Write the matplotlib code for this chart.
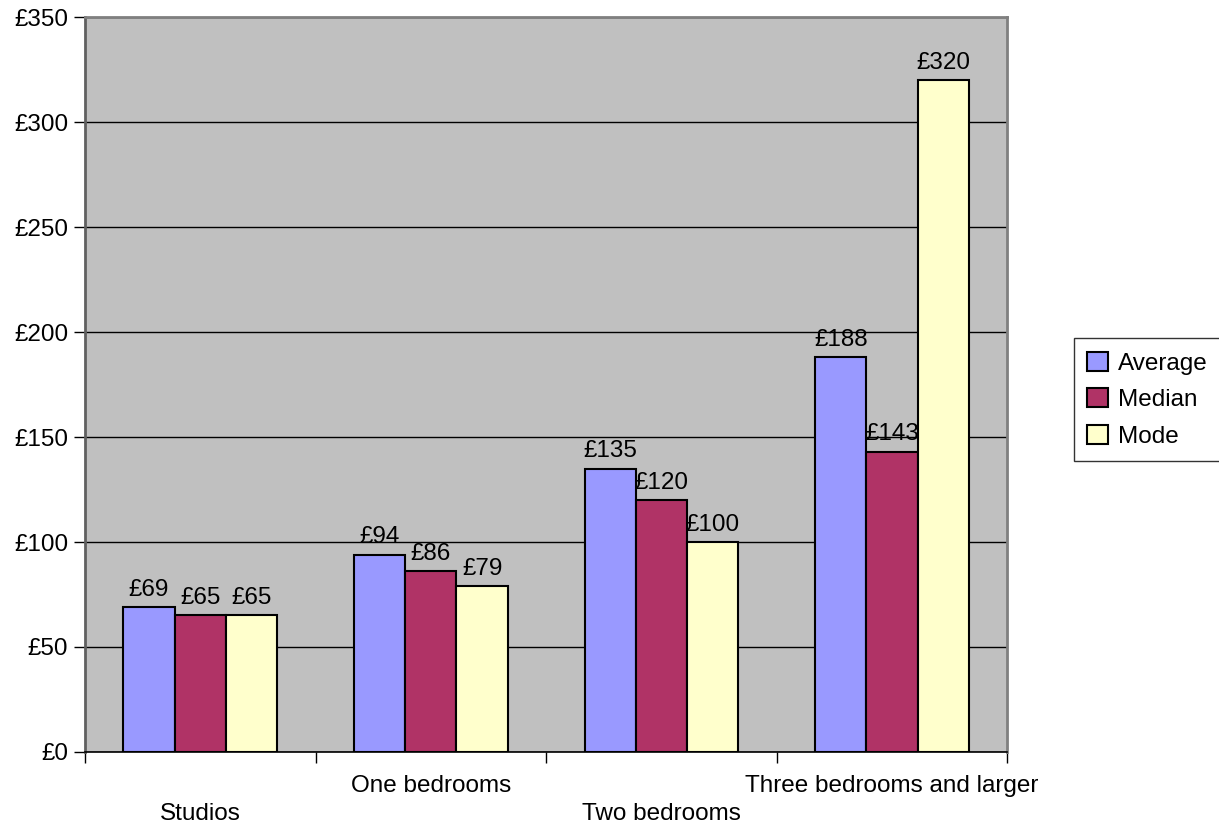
import matplotlib.pyplot as plt
import numpy as np

plt.rcParams['font.family'] = ['Liberation Sans', 'DejaVu Sans']

# Weekly rent by property size
categories = ['Studios', 'One bedrooms', 'Two bedrooms', 'Three bedrooms and larger']
average = [69, 94, 135, 188]
median = [65, 86, 120, 143]
mode = [65, 79, 100, 320]
series_names = ['Average', 'Median', 'Mode']
y_ticks = [0, 50, 100, 150, 200, 250, 300, 350]

colors = ['#9999FF', '#B03366', '#FFFFCC']
font_size = 17.5

fig = plt.figure(figsize=(12.19, 8.27), dpi=100)
ax = fig.add_axes([0.0697, 0.0907, 0.7567, 0.8887])
ax.set_facecolor('#C0C0C0')

x = np.arange(len(categories))
width = 1 / 4.5
offsets = [-width, 0, width]

for values, name, color, off in zip([average, median, mode], series_names, colors, offsets):
    bars = ax.bar(x + off, values, width, color=color, edgecolor='black',
                  linewidth=1.5, label=name, zorder=3)
    # Value labels above each bar
    for bar, v in zip(bars, values):
        ax.text(bar.get_x() + bar.get_width() / 2, v + 3, '£%d' % v,
                ha='center', va='bottom', fontsize=font_size, zorder=4)

ax.set_xlim(-0.5, len(categories) - 0.5)
ax.set_ylim(0, 350)

# Y axis
ax.set_yticks(y_ticks)
ax.set_yticklabels(['£%d' % t for t in y_ticks], fontsize=font_size)
ax.yaxis.grid(True, color='black', linewidth=1, zorder=1)
ax.set_axisbelow(True)

# Category boundaries as major ticks, names staggered on two rows
ax.set_xticks(np.arange(len(categories) + 1) - 0.5)
ax.set_xticklabels([])
ax.set_xticks(x, minor=True)
ax.set_xticklabels(categories, minor=True, fontsize=font_size)
ax.tick_params(axis='x', which='minor', length=0)
for i, tick in enumerate(ax.xaxis.get_minor_ticks()):
    tick.set_pad(37 if i % 2 == 0 else 16.5)
ax.tick_params(axis='both', which='major', length=8, width=1, color='black', direction='out')
ax.tick_params(axis='y', pad=4)

for side in ['top', 'right']:
    ax.spines[side].set_color('#808080')
    ax.spines[side].set_linewidth(2)
ax.spines['left'].set_color('#606060')
ax.spines['left'].set_linewidth(2)
ax.spines['bottom'].set_color('black')
ax.spines['bottom'].set_linewidth(1.2)

leg = fig.legend(loc='upper left', bbox_to_anchor=(0.881, 0.591), fontsize=font_size,
                 frameon=True, fancybox=False, shadow=False, handlelength=0.85,
                 handleheight=0.85, handletextpad=0.4, labelspacing=0.55,
                 borderpad=0.55, borderaxespad=0)
leg.get_frame().set_edgecolor('black')
leg.get_frame().set_linewidth(1)

fig.savefig('out.png', dpi=100, facecolor='white')
